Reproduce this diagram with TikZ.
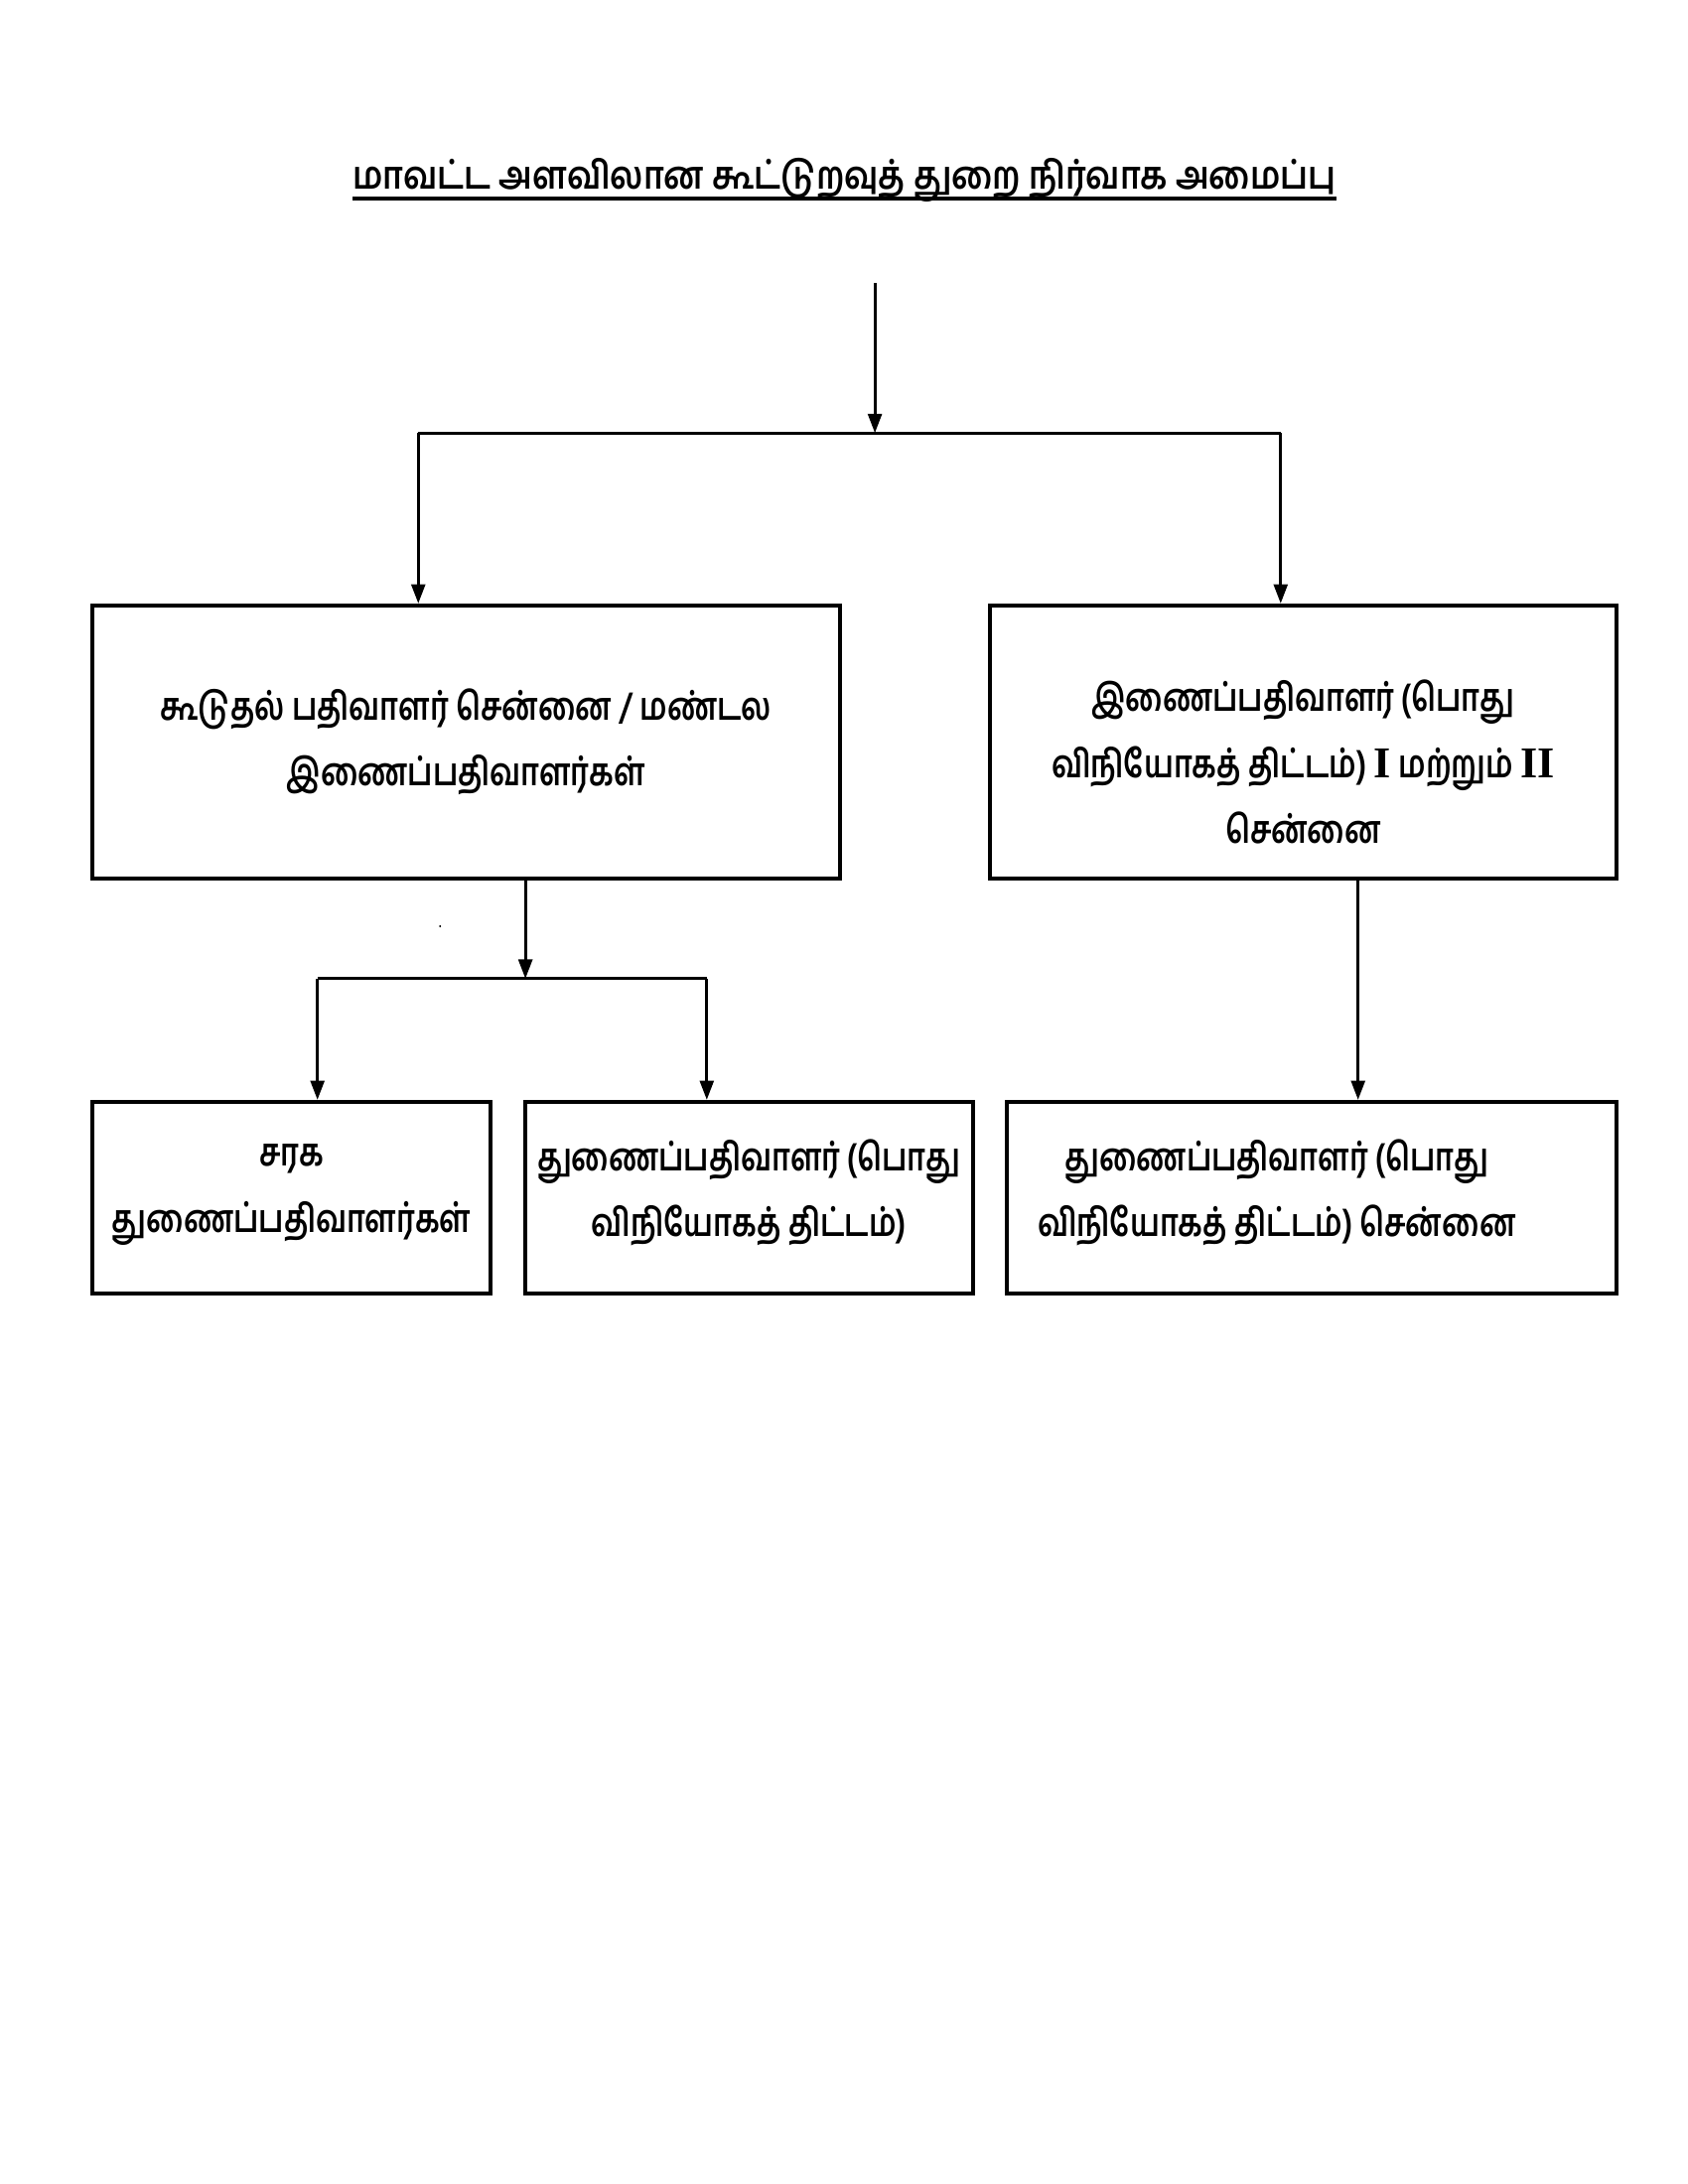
\documentclass[tikz,border=0pt]{standalone}
\usepackage{fontspec}
\setmainfont[Script=Tamil, FakeStretch=0.78]{Hind Madurai}
\newfontfamily\titlefont[Script=Tamil, FakeStretch=0.86]{Hind Madurai}
\newfontfamily\romanfont{Liberation Serif}
\newcommand{\thickul}[1]{\setbox0=\hbox{#1}\leavevmode\rlap{\raisebox{-4pt}{\rule{\wd0}{1.6pt}}}\box0}
\newcommand{\toppad}[1]{\rule{0pt}{#1}}
\newcommand{\botpad}[1]{\rule[-#1]{0pt}{0pt}}
\usetikzlibrary{arrows.meta}
\begin{document}
\begin{tikzpicture}[
    font=\fontsize{14}{24}\selectfont\bfseries,
    box/.style={draw, line width=1.4pt, align=center, inner sep=4pt},
    topbox/.style={box, minimum height=3.49cm},
    subbox/.style={box, minimum height=2.45cm},
    line/.style={line width=1.1pt},
    arr/.style={line, -{Triangle[length=7pt, width=5pt]}},
]
    \useasboundingbox (0,0) rectangle (21.59,-27.94);

    % Title
    \node[font=\fontsize{14}{24}\titlefont\bfseries] (title) at (10.80,-2.31) {\thickul{மாவட்ட அளவிலான கூட்டுறவுத் துறை நிர்வாக அமைப்பு}};

    % Row 1: two offices
    \node[topbox, minimum width=9.56cm] (reg) at (5.96,-9.49) {கூடுதல் பதிவாளர்  சென்னை  / மண்டல\\இணைப்பதிவாளர்கள்};
    \node[topbox, minimum width=8.02cm] (jr)  at (16.67,-9.49) {\toppad{0.92cm}இணைப்பதிவாளர் (பொது\\விநியோகத் திட்டம்) {\romanfont\fontsize{16}{24}\selectfont I} மற்றும் {\romanfont\fontsize{16}{24}\selectfont II}\\சென்னை};

    % Row 2: three offices
    \node[subbox, minimum width=5.09cm] (cir) at (3.73,-15.32) {சரக\\துணைப்பதிவாளர்கள்\botpad{0.24cm}};
    \node[subbox, minimum width=5.73cm] (dpd) at (9.58,-15.32) {துணைப்பதிவாளர் (பொது\\விநியோகத் திட்டம்)\botpad{0.24cm}};
    \node[subbox, minimum width=7.80cm] (dr)  at (16.78,-15.32) {துணைப்பதிவாளர் (பொது\hspace*{0.9cm}\\விநியோகத் திட்டம்) சென்னை\hspace*{0.9cm}\botpad{0.24cm}};

    \node[font=\scriptsize] (dot) at (5.63,-11.86) {.};

    % Connectors
    \coordinate (top)    at (11.19,-3.62);
    \coordinate (split)  at (11.19,-5.54);
    \coordinate (splitL) at (5.35,-5.54);
    \coordinate (splitR) at (16.38,-5.54);
    \coordinate (fork)   at (6.72,-12.52);
    \coordinate (forkL)  at (4.06,-12.52);
    \coordinate (forkR)  at (9.04,-12.52);
    \coordinate (drx)    at (17.37,-12.52);

    \draw[arr] (top) -- (split);
    \draw[line] (splitL) -- (splitR);
    \draw[arr] (splitL) -- (splitL |- reg.north);
    \draw[arr] (splitR) -- (splitR |- jr.north);
    \draw[arr] (reg.south -| fork) -- (fork);
    \draw[line] (forkL) -- (forkR);
    \draw[arr] (forkL) -- (forkL |- cir.north);
    \draw[arr] (forkR) -- (forkR |- dpd.north);
    \draw[arr] (jr.south -| drx) -- (drx |- dr.north);
\end{tikzpicture}
\end{document}
